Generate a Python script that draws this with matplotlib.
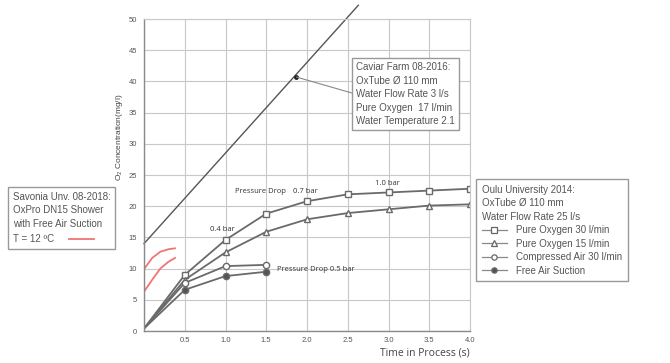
import matplotlib
matplotlib.use("Agg")
import matplotlib.pyplot as plt
from matplotlib.lines import Line2D

plt.rcParams["font.family"] = ["Liberation Sans", "DejaVu Sans"]
plt.rcParams["mathtext.default"] = "regular"

# Oulu University 2014 series
time_oxy = [0.0, 0.5, 1.0, 1.5, 2.0, 2.5, 3.0, 3.5, 4.0]
oxygen_30 = [0.4, 9.0, 14.6, 18.8, 20.8, 21.9, 22.2, 22.5, 22.8]
oxygen_15 = [0.4, 8.2, 12.6, 15.9, 17.9, 18.9, 19.5, 20.1, 20.3]
time_air = [0.0, 0.5, 1.0, 1.5]
compressed_air = [0.4, 7.7, 10.4, 10.6]
free_air = [0.4, 6.6, 8.8, 9.5]

# Caviar Farm 08-2016 line and its marked point
caviar_t = [0.0, 2.63]
caviar_o2 = [14.0, 52.2]
caviar_point = (1.87, 40.7)

# Savonia Unv. 08-2018 shower curves
savonia_t = [0.0, 0.1, 0.2, 0.3, 0.38]
savonia_high = [9.9, 11.7, 12.7, 13.1, 13.25]
savonia_low = [6.3, 8.2, 10.0, 11.1, 11.7]

x_ticks = [0.5, 1.0, 1.5, 2.0, 2.5, 3.0, 3.5, 4.0]
y_ticks = list(range(0, 51, 5))

# text notes on the curves: (text, t, o2)
notes = [
    ("0.4 bar", 0.81, 16.2),
    ("Pressure Drop", 1.12, 22.3),
    ("0.7 bar", 1.83, 22.3),
    ("1.0 bar", 2.83, 23.6),
    ("Pressure Drop 0.5 bar", 1.63, 9.8),
]

GRAY = "#6a6a6a"
TEXT = "#555555"

fig = plt.figure(figsize=(6.7, 3.63), dpi=100)
ax = fig.add_axes([144 / 670, 1 - 331 / 363, 326 / 670, 312 / 363])

ax.set_xlim(0, 4.0)
ax.set_ylim(0, 50)
ax.set_yticks(y_ticks)
ax.set_xticks([0.0] + x_ticks)
ax.set_xticklabels([""] + [f"{t:.1f}" for t in x_ticks])
ax.grid(True, color="#c8c8c8", lw=0.8)
ax.set_axisbelow(True)
ax.tick_params(length=0, labelsize=5.5, labelcolor=TEXT)
ax.tick_params(axis="x", pad=4)
ax.tick_params(axis="y", pad=5)
for side in ["top", "right"]:
    ax.spines[side].set_color("#c8c8c8")
    ax.spines[side].set_linewidth(0.8)
for side in ["left", "bottom"]:
    ax.spines[side].set_color("#8a8a8a")
    ax.spines[side].set_linewidth(1.0)

ax.set_xlabel("Time in Process (s)", fontsize=7.5, color="#444444",
              family=["Open Sans", "DejaVu Sans"], ha="right")
ax.xaxis.set_label_coords(1.0, -0.052)
ax.set_ylabel("O$_2$ Concentration(mg/l)", fontsize=6, color="#444444")
ax.yaxis.set_label_coords(-0.058, 0.62)

# Caviar farm
ax.plot(caviar_t, caviar_o2, color="#555555", lw=1.0, clip_on=False)
ax.plot(*caviar_point, "o", color="#222222", ms=2.5)
ax.annotate("Caviar Farm 08-2016:\nOxTube Ø 110 mm\nWater Flow Rate 3 l/s\n"
            "Pure Oxygen  17 l/min\nWater Temperature 2.1",
            xy=caviar_point, xycoords="data",
            xytext=(356 / 670, 1 - 62 / 363), textcoords="figure fraction",
            ha="left", va="top", fontsize=7, color=TEXT, linespacing=1.45,
            bbox=dict(boxstyle="square,pad=0.4", fc="white", ec="#999999", lw=1.0),
            arrowprops=dict(arrowstyle="-", color="#888888", lw=0.8,
                            relpos=(0, 0.5), shrinkA=0, shrinkB=0))

# Savonia
ax.plot(savonia_t, savonia_high, color="#f07474", lw=1.3)
ax.plot(savonia_t, savonia_low, color="#f07474", lw=1.3)

# Oulu series
mk = dict(color=GRAY, lw=1.3, ms=4.5, markevery=slice(1, None),
          markeredgecolor=GRAY, markeredgewidth=1.0)
h1, = ax.plot(time_oxy, oxygen_30, marker="s", mfc="white", **mk)
h2, = ax.plot(time_oxy, oxygen_15, marker="^", mfc="white", **mk)
h3, = ax.plot(time_air, compressed_air, marker="o", mfc="white", **mk)
h4, = ax.plot(time_air, free_air, marker="o", mfc="#555555", **mk)

for text, t, o2 in notes:
    ax.text(t, o2, text, fontsize=5.5, color="#333333",
            family=["Open Sans", "DejaVu Sans"], va="center")

# lighter, thinner copies for the legend handles
legend_handles = []
for marker, face in [("s", "white"), ("^", "white"), ("o", "white"), ("o", "#555555")]:
    legend_handles.append(Line2D([], [], color="#888888", lw=0.9, marker=marker,
                                 ms=3.8, mfc=face, mec="#666666", mew=0.9))

leg_oulu = fig.legend(legend_handles,
                      ["Pure Oxygen 30 l/min", "Pure Oxygen 15 l/min",
                       "Compressed Air 30 l/min", "Free Air Suction"],
                      title="Oulu University 2014:\nOxTube Ø 110 mm\nWater Flow Rate 25 l/s",
                      loc="upper left", bbox_to_anchor=(476 / 670, 1 - 179 / 363),
                      borderaxespad=0, fontsize=7, title_fontsize=7,
                      alignment="left", fancybox=False, edgecolor="#999999",
                      framealpha=1, handlelength=2.6, handletextpad=0.9,
                      labelspacing=0.35, borderpad=0.6)
leg_oulu.get_frame().set_linewidth(1.0)
leg_oulu.get_title().set_color(TEXT)
leg_oulu.get_title().set_linespacing(1.45)
for txt in leg_oulu.get_texts():
    txt.set_color(TEXT)

red_handle = Line2D([], [], color="#f07474", lw=1.3)
leg_sav = fig.legend([red_handle], ["T = 12 ºC"],
                     title="Savonia Unv. 08-2018:\nOxPro DN15 Shower\nwith Free Air Suction",
                     loc="upper left", bbox_to_anchor=(8 / 670, 1 - 187 / 363),
                     borderaxespad=0, fontsize=7, title_fontsize=7,
                     alignment="left", fancybox=False, edgecolor="#999999",
                     framealpha=1, markerfirst=False, handlelength=2.6,
                     handletextpad=1.5, borderpad=0.5)
leg_sav.get_frame().set_linewidth(1.0)
leg_sav.get_title().set_color(TEXT)
leg_sav.get_title().set_linespacing(1.45)
for txt in leg_sav.get_texts():
    txt.set_color(TEXT)

fig.savefig("out.png", dpi=100)
